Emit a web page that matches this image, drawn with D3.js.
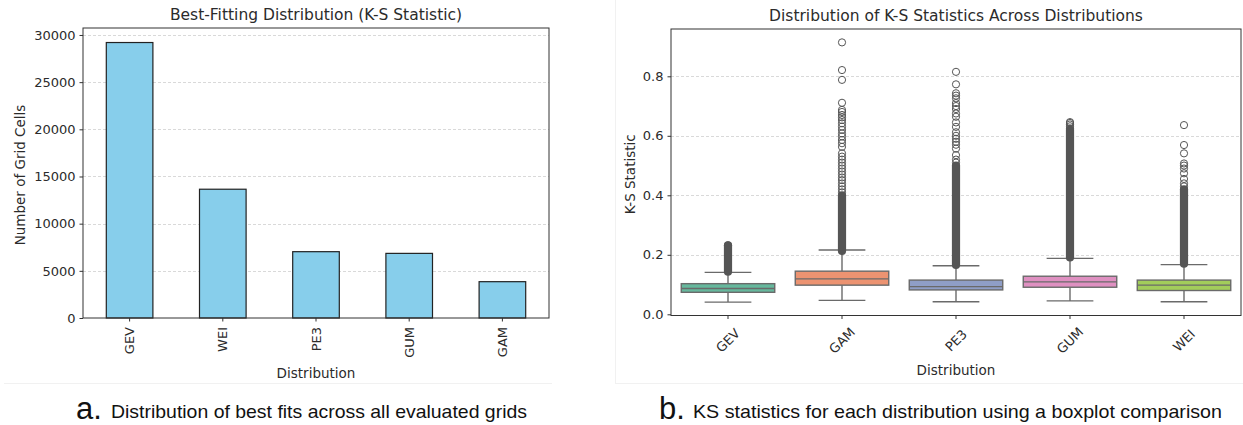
<!DOCTYPE html>
<html>
<head>
<meta charset="utf-8">
<script src="https://cdn.jsdelivr.net/npm/d3@7"></script>
<style>
  body { margin: 0; background: #fff; }
  svg { display: block; }
</style>
</head>
<body>
<div id="chart"></div>
<script>
// panel a: best fitting distribution counts
var barCats = ["GEV", "WEI", "PE3", "GUM", "GAM"];
var barCounts = [29200, 13650, 7030, 6850, 3850];
var countTicks = [0, 5000, 10000, 15000, 20000, 25000, 30000];

// panel b: K-S statistic boxplots
var boxCats = ["GEV", "GAM", "PE3", "GUM", "WEI"];
var boxColors = ["#66b89d", "#ec9371", "#8f9ec7", "#df90c1", "#a2cd5b"];
var whiskerLow = [0.041, 0.047, 0.042, 0.045, 0.042];
var boxQ1 = [0.074, 0.098, 0.082, 0.091, 0.080];
var boxMedian = [0.087, 0.119, 0.093, 0.109, 0.098];
var boxQ3 = [0.103, 0.145, 0.115, 0.128, 0.115];
var whiskerHigh = [0.141, 0.216, 0.163, 0.188, 0.167];
// runs of overlapping outliers (lowest, highest)
var denseOutliers = [[0.143, 0.232], [0.213, 0.40], [0.166, 0.50], [0.191, 0.62], [0.17, 0.42]];
// separately visible outliers
var sparseOutliers = [
  [0.232],
  [0.41, 0.42, 0.43, 0.44, 0.451, 0.46, 0.47, 0.48, 0.49, 0.50, 0.51, 0.52, 0.53, 0.541, 0.563, 0.575,
   0.586, 0.598, 0.608, 0.62, 0.631, 0.642, 0.653, 0.662, 0.670, 0.68, 0.687, 0.711, 0.788, 0.821, 0.914],
  [0.51, 0.52, 0.535, 0.557, 0.57, 0.58, 0.59, 0.60, 0.612, 0.63, 0.645, 0.664, 0.675, 0.69, 0.70, 0.71,
   0.726, 0.735, 0.743, 0.773, 0.815],
  [0.625, 0.632, 0.638, 0.643, 0.646],
  [0.43, 0.44, 0.455, 0.474, 0.49, 0.50, 0.507, 0.541, 0.569, 0.636]
];
var ksTicks = [0.0, 0.2, 0.4, 0.6, 0.8];

var width = 1243, height = 425;
var font = "DejaVu Sans";
var textColor = "#2b2b2b";

var svg = d3.select("#chart").append("svg")
    .attr("width", width)
    .attr("height", height);

// faint panel edges from the pasted figures
svg.append("line").attr("x1", 4).attr("x2", 552).attr("y1", 383.5).attr("y2", 383.5)
    .attr("stroke", "#f1f1f1");
svg.append("line").attr("x1", 615.5).attr("x2", 615.5).attr("y1", 0).attr("y2", 383)
    .attr("stroke", "#f1f1f1");
svg.append("line").attr("x1", 615).attr("x2", 1243).attr("y1", 383.5).attr("y2", 383.5)
    .attr("stroke", "#f1f1f1");

// ---------- panel a ----------
var a = {left: 83, right: 549, top: 28, bottom: 318};

var xA = d3.scaleBand()
    .domain(barCats)
    .range([a.left, a.right])
    .paddingInner(0.5)
    .paddingOuter(0.25);

var yA = d3.scaleLinear()
    .domain([0, 30740])
    .range([a.bottom, a.top]);

var gA = svg.append("g");

gA.selectAll(".grid")
    .data(countTicks.filter(function(d) { return d > 0; }))
    .enter().append("line")
    .attr("x1", a.left).attr("x2", a.right)
    .attr("y1", function(d) { return Math.round(yA(d)) + 0.5; })
    .attr("y2", function(d) { return Math.round(yA(d)) + 0.5; })
    .attr("stroke", "#cfcfcf")
    .attr("stroke-width", 0.8)
    .attr("stroke-dasharray", "3,2");

gA.selectAll(".bar")
    .data(barCounts)
    .enter().append("rect")
    .attr("x", function(d, i) { return xA(barCats[i]); })
    .attr("y", function(d) { return yA(d); })
    .attr("width", xA.bandwidth())
    .attr("height", function(d) { return yA(0) - yA(d); })
    .attr("fill", "#87ceeb")
    .attr("stroke", "#222")
    .attr("stroke-width", 1.2);

var axisLeftA = gA.append("g")
    .attr("transform", "translate(" + a.left + ",0)")
    .call(d3.axisLeft(yA).tickValues(countTicks).tickFormat(d3.format("d")).tickSize(3.5).tickPadding(4));
var axisBottomA = gA.append("g")
    .attr("transform", "translate(0," + a.bottom + ")")
    .call(d3.axisBottom(xA).tickSize(3.5));
axisBottomA.selectAll("text")
    .attr("transform", "rotate(-90)")
    .attr("x", -9)
    .attr("y", 0)
    .attr("dy", "0.35em")
    .style("text-anchor", "end");

gA.append("rect")
    .attr("x", a.left).attr("y", a.top)
    .attr("width", a.right - a.left).attr("height", a.bottom - a.top)
    .attr("fill", "none").attr("stroke", "#333").attr("stroke-width", 1);

gA.append("text")
    .attr("x", (a.left + a.right) / 2).attr("y", 20)
    .attr("text-anchor", "middle")
    .attr("font-size", 15.5)
    .text("Best-Fitting Distribution (K-S Statistic)");
gA.append("text")
    .attr("x", (a.left + a.right) / 2).attr("y", 378)
    .attr("text-anchor", "middle")
    .attr("font-size", 13.5)
    .text("Distribution");
gA.append("text")
    .attr("transform", "translate(25," + ((a.top + a.bottom) / 2 + 2) + ") rotate(-90)")
    .attr("text-anchor", "middle")
    .attr("font-size", 13.5)
    .text("Number of Grid Cells");

// ---------- panel b ----------
var b = {left: 671, right: 1241, top: 29, bottom: 315.5};

var xB = d3.scaleBand()
    .domain(boxCats)
    .range([b.left, b.right]);
var step = xB.step();
var boxW = step * 0.82;
var capW = step * 0.41;

var yB = d3.scaleLinear()
    .domain([-0.004, 0.959])
    .range([b.bottom, b.top]);

var gB = svg.append("g");

gB.selectAll(".grid")
    .data(ksTicks.filter(function(d) { return d > 0; }))
    .enter().append("line")
    .attr("x1", b.left).attr("x2", b.right)
    .attr("y1", function(d) { return Math.round(yB(d)) + 0.5; })
    .attr("y2", function(d) { return Math.round(yB(d)) + 0.5; })
    .attr("stroke", "#cfcfcf")
    .attr("stroke-width", 0.8)
    .attr("stroke-dasharray", "3,2");

var lineColor = "#6a6a6a";
var boxes = gB.selectAll(".box")
    .data(boxCats)
    .enter().append("g")
    .attr("transform", function(d) { return "translate(" + (xB(d) + step / 2) + ",0)"; });

// whiskers
boxes.append("line")
    .attr("x1", 0).attr("x2", 0)
    .attr("y1", function(d, i) { return yB(whiskerLow[i]); })
    .attr("y2", function(d, i) { return yB(boxQ1[i]); })
    .attr("stroke", lineColor).attr("stroke-width", 1.4);
boxes.append("line")
    .attr("x1", 0).attr("x2", 0)
    .attr("y1", function(d, i) { return yB(boxQ3[i]); })
    .attr("y2", function(d, i) { return yB(whiskerHigh[i]); })
    .attr("stroke", lineColor).attr("stroke-width", 1.4);
boxes.append("line")
    .attr("x1", -capW / 2).attr("x2", capW / 2)
    .attr("y1", function(d, i) { return yB(whiskerLow[i]); })
    .attr("y2", function(d, i) { return yB(whiskerLow[i]); })
    .attr("stroke", lineColor).attr("stroke-width", 1.4);
boxes.append("line")
    .attr("x1", -capW / 2).attr("x2", capW / 2)
    .attr("y1", function(d, i) { return yB(whiskerHigh[i]); })
    .attr("y2", function(d, i) { return yB(whiskerHigh[i]); })
    .attr("stroke", lineColor).attr("stroke-width", 1.4);

// boxes and medians
boxes.append("rect")
    .attr("x", -boxW / 2)
    .attr("y", function(d, i) { return yB(boxQ3[i]); })
    .attr("width", boxW)
    .attr("height", function(d, i) { return yB(boxQ1[i]) - yB(boxQ3[i]); })
    .attr("fill", function(d, i) { return boxColors[i]; })
    .attr("stroke", lineColor).attr("stroke-width", 1.4);
boxes.append("line")
    .attr("x1", -boxW / 2).attr("x2", boxW / 2)
    .attr("y1", function(d, i) { return yB(boxMedian[i]); })
    .attr("y2", function(d, i) { return yB(boxMedian[i]); })
    .attr("stroke", lineColor).attr("stroke-width", 1.4);

// outliers
var r = 3.6;
var outColor = "#555";
boxes.append("rect")
    .attr("x", -r - 0.5)
    .attr("y", function(d, i) { return yB(denseOutliers[i][1]) - r - 0.5; })
    .attr("width", 2 * r + 1)
    .attr("height", function(d, i) { return yB(denseOutliers[i][0]) - yB(denseOutliers[i][1]) + 2 * r + 1; })
    .attr("rx", r + 0.5)
    .attr("fill", outColor);
boxes.each(function(d, i) {
    d3.select(this).selectAll(".out")
        .data(sparseOutliers[i])
        .enter().append("circle")
        .attr("cx", 0)
        .attr("cy", function(v) { return yB(v); })
        .attr("r", r)
        .attr("fill", "none")
        .attr("stroke", outColor)
        .attr("stroke-width", 1);
});

var axisLeftB = gB.append("g")
    .attr("transform", "translate(" + b.left + ",0)")
    .call(d3.axisLeft(yB).tickValues(ksTicks).tickFormat(d3.format(".1f")).tickSize(3.5).tickPadding(4));
var axisBottomB = gB.append("g")
    .attr("transform", "translate(0," + b.bottom + ")")
    .call(d3.axisBottom(xB).tickSize(3.5));
axisBottomB.selectAll("text")
    .attr("transform", "translate(0,25) rotate(-45)")
    .attr("x", 0)
    .attr("y", 0)
    .attr("dy", "0.35em")
    .style("text-anchor", "middle");

gB.append("rect")
    .attr("x", b.left).attr("y", b.top)
    .attr("width", b.right - b.left).attr("height", b.bottom - b.top)
    .attr("fill", "none").attr("stroke", "#333").attr("stroke-width", 1);

gB.append("text")
    .attr("x", (b.left + b.right) / 2).attr("y", 21)
    .attr("text-anchor", "middle")
    .attr("font-size", 15.5)
    .text("Distribution of K-S Statistics Across Distributions");
gB.append("text")
    .attr("x", (b.left + b.right) / 2).attr("y", 375)
    .attr("text-anchor", "middle")
    .attr("font-size", 13.5)
    .text("Distribution");
gB.append("text")
    .attr("transform", "translate(635," + ((b.top + b.bottom) / 2 + 2) + ") rotate(-90)")
    .attr("text-anchor", "middle")
    .attr("font-size", 13.5)
    .text("K-S Statistic");

// shared axis styling
svg.selectAll(".domain").remove();
svg.selectAll(".tick line").attr("stroke", "#333");
svg.selectAll(".tick text")
    .attr("font-family", font)
    .attr("font-size", 13)
    .attr("fill", textColor);
svg.selectAll("g > text")
    .attr("font-family", font)
    .attr("fill", textColor);

// captions
function caption(letter, lx, tx, tw, str) {
    var g = svg.append("g").attr("font-family", "Liberation Sans, Arial").attr("fill", "#111");
    g.append("text").attr("x", lx).attr("y", 419).attr("font-size", 31).text(letter);
    g.append("text").attr("x", tx).attr("y", 418).attr("font-size", 19)
        .attr("textLength", tw).attr("lengthAdjust", "spacingAndGlyphs").text(str);
}
caption("a.", 76, 111, 416, "Distribution of best fits across all evaluated grids");
caption("b.", 659, 693, 529, "KS statistics for each distribution using a boxplot comparison");
</script>
</body>
</html>
